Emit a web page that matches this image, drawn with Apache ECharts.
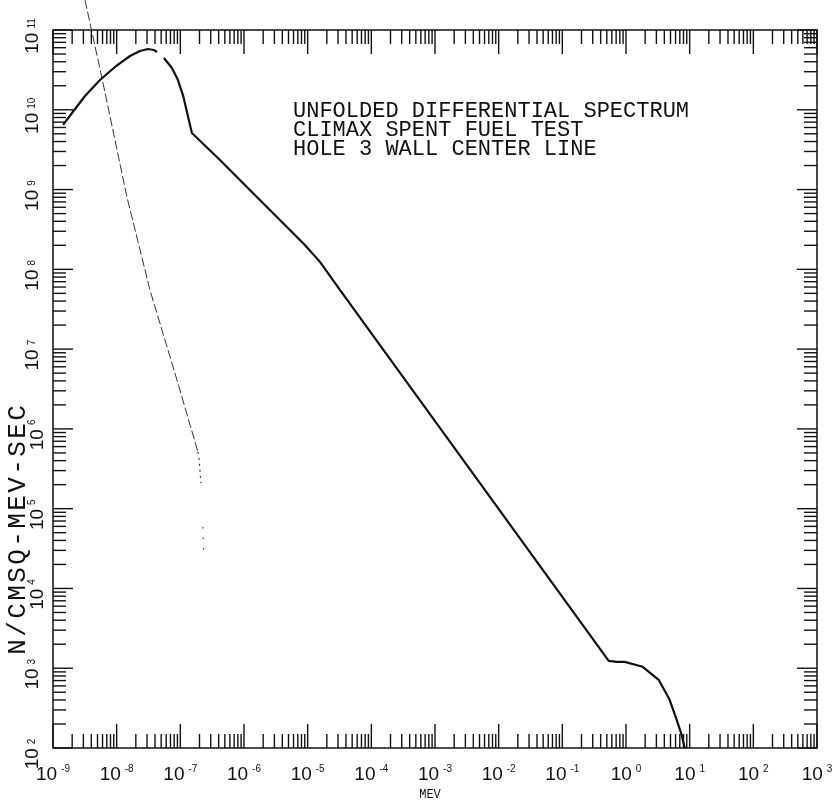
<!DOCTYPE html>
<html><head><meta charset="utf-8">
<script src="https://cdn.jsdelivr.net/npm/echarts@6/dist/echarts.min.js"></script>
<style>html,body{margin:0;padding:0;background:#fff}#c{width:838px;height:810px}</style>
</head><body><div id="c"></div>
<script>
// Axis ranges (decade exponents)
const xDecades = [-9,-8,-7,-6,-5,-4,-3,-2,-1,0,1,2,3];
const yDecades = [2,3,4,5,6,7,8,9,10,11];
const minorMultipliers = [2,3,4,5,6,7,8,9];

// Unfolded differential spectrum (MeV, n/cm2-MeV-s); '-' marks the plotter gap
const mainEnergy = [1.44e-9,1.99e-9,3.18e-9,5.47e-9,9.40e-9,1.62e-8,2.32e-8,3.10e-8,3.85e-8,4.30e-8,4.8e-8,
  5.53e-8,7.38e-8,9.17e-8,1.10e-7,1.27e-7,1.52e-7,4.19e-7,1.48e-6,4.39e-6,9.04e-6,1.56e-5,3.21e-5,
  0.535,0.714,0.955,1.83,3.26,4.85,6.25,7.49,8.35];
const mainFlux = [6.46e9,9.12e9,1.49e10,2.36e10,3.44e10,4.72e10,5.46e10,5.78e10,5.61e10,5.30e10,'-',
  4.46e10,3.34e10,2.36e10,1.53e10,9.38e9,5.12e9,2.35e9,8.55e8,3.60e8,2.02e8,1.24e8,5.52e7,
  1239,1202,1202,1042,716,402,225,146,100];

// Thin steep line (thermal component)
const steepEnergy = [3.18e-9,5.87e-9,1.45e-8,3.33e-8,8.85e-8,1.89e-7];
const steepFlux = [2.38e11,2.50e10,8.07e8,5.52e7,4.11e6,5.15e5];
const tailEnergy = [1.89e-7,1.96e-7,2.10e-7];
const tailFlux = [5.15e5,4.46e5,2.10e5];
const dotsEnergy = [2.25e-7,2.28e-7,2.31e-7,2.34e-7];
const dotsFlux = [5.9e4,4.6e4,3.2e4,2.4e4];

const xTitle = 'MEV';
const yTitle = 'N/CMSQ-MEV-SEC';
const noteLines = ['UNFOLDED DIFFERENTIAL SPECTRUM','CLIMAX SPENT FUEL TEST','HOLE 3 WALL CENTER LINE'];

const X_MIN = Math.pow(10, xDecades[0]), X_MAX = Math.pow(10, xDecades[xDecades.length-1]);
const Y_MIN = Math.pow(10, yDecades[0]), Y_MAX = Math.pow(10, yDecades[yDecades.length-1]);

function tickValues(decades){
  const out = [];
  decades.forEach((d,i)=>{
    out.push([Math.pow(10,d),1]);
    if (i < decades.length-1) minorMultipliers.forEach(m=>out.push([m*Math.pow(10,d),0]));
  });
  return out;
}
const xTicks = tickValues(xDecades).map(t=>[t[0], Y_MIN, t[1]]);
const yTicks = tickValues(yDecades).map(t=>[X_MIN, t[0], t[1]]);

const INK = '#111';
function line(x1,y1,x2,y2){return {type:'line',shape:{x1,y1,x2,y2},style:{stroke:INK,lineWidth:1.4}};}

const xRich = {
  b:{fontFamily:'Liberation Sans',fontSize:19,color:INK,lineHeight:20,verticalAlign:'bottom'},
  e:{fontFamily:'Liberation Sans',fontSize:10,color:INK,lineHeight:10,verticalAlign:'top',padding:[0,0,0,4]}
};
function xLabel(v){ const e = Math.round(Math.log10(v)); return '{b|10}{e|' + e + '}'; }
// y labels (rotated): labels next to the axis title sit closer to the axis
const yRich = {
  b:{fontFamily:'Liberation Sans',fontSize:19,color:INK,lineHeight:20,verticalAlign:'bottom',padding:[0,0,5,0]},
  e:{fontFamily:'Liberation Sans',fontSize:10,color:INK,lineHeight:10,verticalAlign:'top',padding:[0,12,5,4]},
  bn:{fontFamily:'Liberation Sans',fontSize:19,color:INK,lineHeight:20,verticalAlign:'bottom',padding:[0,0,0,0]},
  en:{fontFamily:'Liberation Sans',fontSize:10,color:INK,lineHeight:10,verticalAlign:'top',padding:[0,12,0,4]}
};
function yLabel(v){
  const e = Math.round(Math.log10(v));
  const near = e >= 4 && e <= 6;
  return near ? '{bn|10}{en|' + e + '}' : '{b|10}{e|' + e + '}';
}

const zip = (a,b)=>a.map((v,i)=>[v,b[i]]);
const spaced = s => s.split('').map(c=>'{c|'+c+'}').join('');

const chart = echarts.init(document.getElementById('c'), null, {renderer:'canvas'});
chart.setOption({
  animation:false,
  backgroundColor:'#fff',
  title:{text:noteLines.join('\n'), left:293, top:102, padding:0,
    textStyle:{fontFamily:'Liberation Mono',fontSize:22,fontWeight:'normal',color:INK,lineHeight:19}},
  grid:{left:53,right:21,top:30,bottom:62,show:true,borderColor:INK,borderWidth:1.5,containLabel:false,outerBoundsMode:'none'},
  xAxis:{type:'log',logBase:10,min:X_MIN,max:X_MAX,interval:1,splitNumber:12,
    axisLine:{show:false},axisTick:{show:false},splitLine:{show:false},minorTick:{show:false},
    axisLabel:{show:true,margin:16,showMinLabel:true,showMaxLabel:true,formatter:xLabel,rich:xRich},
    name:xTitle,nameLocation:'middle',nameGap:40,
    nameTextStyle:{fontFamily:'Liberation Mono',fontSize:12,color:INK,padding:[0,10,0,0]}},
  yAxis:{type:'log',logBase:10,min:Y_MIN,max:Y_MAX,interval:1,splitNumber:9,
    axisLine:{show:false},axisTick:{show:false},splitLine:{show:false},minorTick:{show:false},
    axisLabel:{show:true,rotate:90,margin:6,showMinLabel:true,showMaxLabel:true,formatter:yLabel,rich:yRich}},
  graphic:[{type:'text',x:18,y:530,rotation:Math.PI/2,
    style:{text:spaced(yTitle),fill:INK,textAlign:'center',textVerticalAlign:'middle',
      rich:{c:{fontFamily:'Liberation Mono',fontSize:26,fill:INK,padding:[0,1.2,0,1.2]}}}}],
  series:[
    {type:'custom',silent:true,clip:false,z:5,data:xTicks,
     renderItem:function(p,api){
       const v=api.value(0), len=api.value(2)===1?24:14;
       const b=api.coord([v,Y_MIN]), t=api.coord([v,Y_MAX]);
       return {type:'group',children:[line(b[0],b[1],b[0],b[1]-len),line(t[0],t[1],t[0],t[1]+len)]};
     }},
    {type:'custom',silent:true,clip:false,z:5,data:yTicks,
     renderItem:function(p,api){
       const v=api.value(1), len=api.value(2)===1?20:13;
       const l=api.coord([X_MIN,v]), r=api.coord([X_MAX,v]);
       return {type:'group',children:[line(l[0],l[1],l[0]+len,l[1]),line(r[0],r[1],r[0]-len,r[1])]};
     }},
    {type:'line',data:zip(mainEnergy,mainFlux),showSymbol:false,symbol:'none',connectNulls:false,
     lineStyle:{color:INK,width:2.2},z:3},
    {type:'line',data:zip(steepEnergy,steepFlux),showSymbol:false,symbol:'none',clip:false,
     lineStyle:{color:'#333',width:1,type:[9,3]},z:2},
    {type:'line',data:zip(tailEnergy,tailFlux),showSymbol:false,symbol:'none',
     lineStyle:{color:'#333',width:1.2,type:[2,4]},z:2},
    {type:'line',data:zip(dotsEnergy,dotsFlux),showSymbol:false,symbol:'none',
     lineStyle:{color:'#444',width:1.2,type:[1.5,9]},z:2}
  ]
});
</script></body></html>
